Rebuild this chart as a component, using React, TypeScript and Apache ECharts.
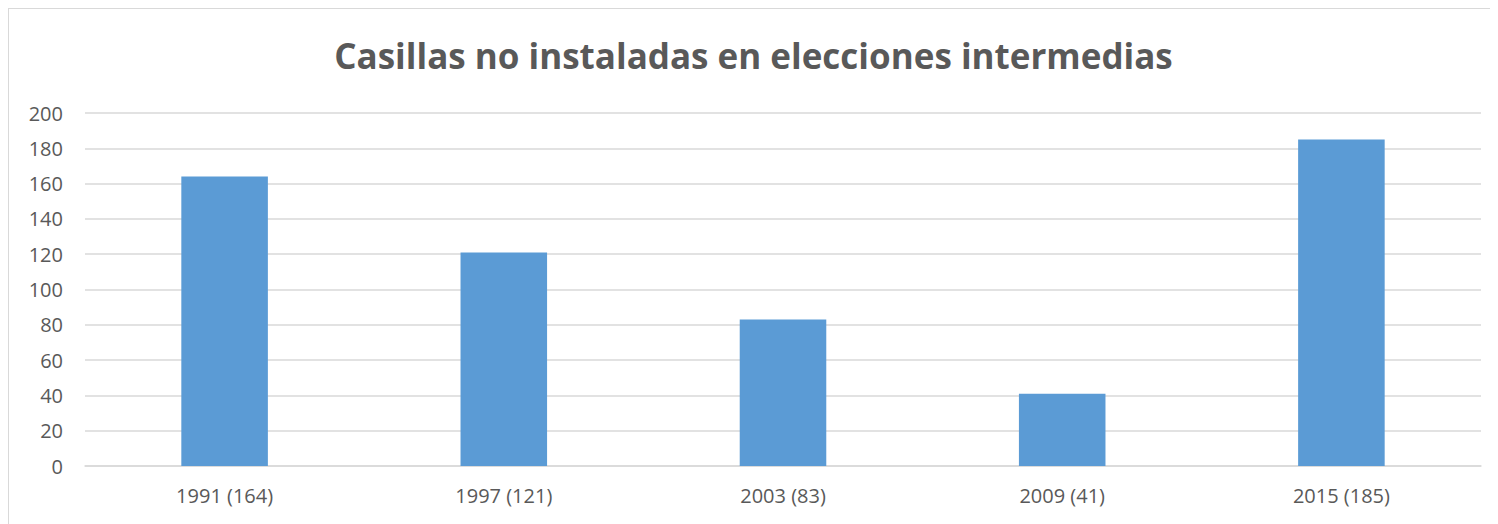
import React, { useEffect, useRef } from "react";
import * as echarts from "echarts";

const categories = ["1991 (164)", "1997 (121)", "2003 (83)", "2009 (41)", "2015 (185)"];
const values = [164, 121, 83, 41, 185];
const titleText = "Casillas no instaladas en elecciones intermedias";

export default function App() {
  const ref = useRef<HTMLDivElement>(null);
  useEffect(() => {
    document.body.style.overflow = "hidden";
    const chart = echarts.init(ref.current!, null, { renderer: "svg" });
    chart.setOption({
      animation: false,
      backgroundColor: "#ffffff",
      title: {
        text: titleText,
        left: "center",
        top: 24,
        textStyle: {
          fontFamily: "Open Sans",
          fontWeight: "bold",
          fontSize: 35,
          color: "#595959",
        },
      },
      grid: { left: 76, right: 17, top: 104, bottom: 58, containLabel: false },
      xAxis: {
        type: "category",
        data: categories,
        axisLine: { lineStyle: { color: "#d9d9d9", width: 1.5 } },
        axisTick: { show: false },
        axisLabel: {
          fontFamily: "Open Sans",
          fontSize: 20,
          color: "#595959",
          margin: 19,
        },
      },
      yAxis: {
        type: "value",
        min: 0,
        max: 200,
        interval: 20,
        axisLine: { show: false },
        axisTick: { show: false },
        splitLine: { lineStyle: { color: "#d9d9d9", width: 1.5 } },
        axisLabel: {
          fontFamily: "Open Sans",
          fontSize: 20,
          color: "#595959",
          margin: 22,
        },
      },
      series: [
        {
          type: "bar",
          data: values,
          barWidth: "31%",
          itemStyle: { color: "#5B9BD5" },
        },
      ],
    });
    return () => chart.dispose();
  }, []);
  return (
    <div
      ref={ref}
      style={{
        width: 1490,
        height: 516,
        borderTop: "1px solid #d9d9d9",
        borderLeft: "1px solid #d9d9d9",
        boxSizing: "border-box",
      }}
    />
  );
}
